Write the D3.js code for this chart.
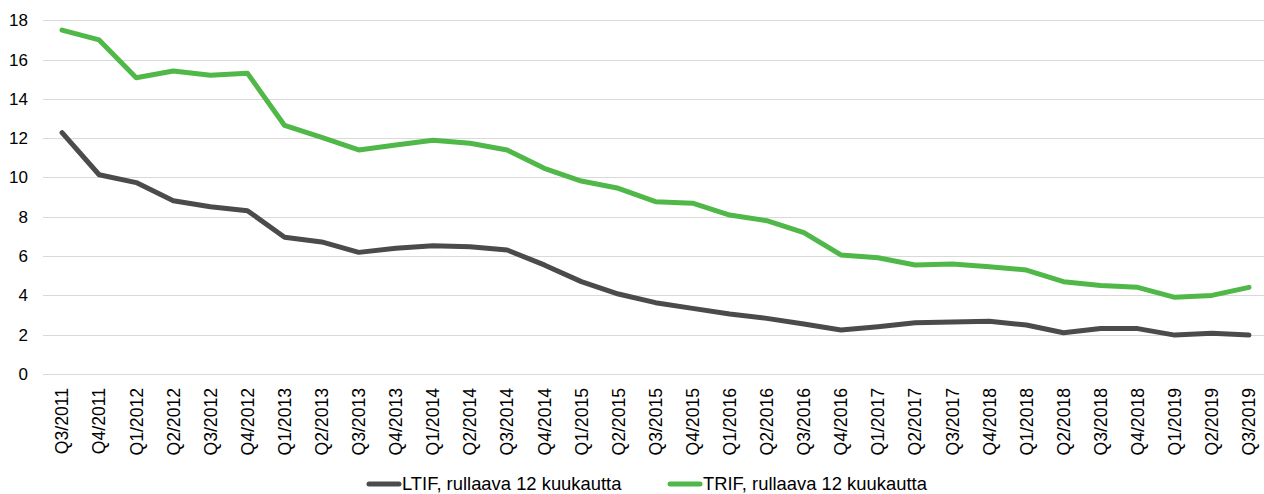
<!DOCTYPE html>
<html>
<head>
<meta charset="utf-8">
<script src="https://cdn.jsdelivr.net/npm/d3@7"></script>
<style>
  body { margin: 0; background: #fff; }
  text { font-family: "Liberation Sans", Arial, sans-serif; fill: #000; }
</style>
</head>
<body>
<script>
var width = 1264,
    height = 494;

// kvartaalit (huom: alkuperäisessä kuvassa "Q4/2018" kahdesti)
var quarters = ["Q3/2011", "Q4/2011", "Q1/2012", "Q2/2012", "Q3/2012", "Q4/2012",
    "Q1/2013", "Q2/2013", "Q3/2013", "Q4/2013", "Q1/2014", "Q2/2014", "Q3/2014",
    "Q4/2014", "Q1/2015", "Q2/2015", "Q3/2015", "Q4/2015", "Q1/2016", "Q2/2016",
    "Q3/2016", "Q4/2016", "Q1/2017", "Q2/2017", "Q3/2017", "Q4/2018", "Q1/2018",
    "Q2/2018", "Q3/2018", "Q4/2018", "Q1/2019", "Q2/2019", "Q3/2019"];

var ltif = [12.28, 10.14, 9.74, 8.82, 8.51, 8.31, 6.96, 6.72, 6.19, 6.4, 6.53, 6.48, 6.31,
    5.55, 4.7, 4.07, 3.63, 3.34, 3.05, 2.83, 2.54, 2.24, 2.41, 2.61, 2.65, 2.68, 2.49,
    2.1, 2.31, 2.31, 1.98, 2.07, 1.98];

var trif = [17.5, 17.0, 15.08, 15.42, 15.2, 15.3, 12.65, 12.04, 11.4, 11.65, 11.9, 11.74, 11.4,
    10.47, 9.82, 9.45, 8.77, 8.69, 8.09, 7.8, 7.19, 6.06, 5.92, 5.55, 5.6, 5.46, 5.29,
    4.7, 4.5, 4.41, 3.9, 4.0, 4.41];

var yTicks = [0, 2, 4, 6, 8, 10, 12, 14, 16, 18];

var series = [
    { name: "LTIF, rullaava 12 kuukautta", values: ltif, color: "#4b4b4d" },
    { name: "TRIF, rullaava 12 kuukautta", values: trif, color: "#50b848" }
];

var svg = d3.select("body")
    .append("svg")
    .attr("width", width)
    .attr("height", height);

// indeksit, koska nimissä on tuplat
var x = d3.scalePoint()
    .domain(d3.range(quarters.length))
    .range([43.5, 1267.5])
    .padding(0.5);

var y = d3.scaleLinear()
    .domain([0, 18])
    .range([374, 20.3]);

// vaakaviivat
svg.append("g")
    .selectAll("line")
    .data(yTicks)
    .join("line")
    .attr("x1", 43)
    .attr("x2", width)
    .attr("y1", d => Math.round(y(d)) + 0.5)
    .attr("y2", d => Math.round(y(d)) + 0.5)
    .attr("stroke", "#d9d9d9")
    .attr("stroke-width", 1.2);

// y-akselin tekstit
svg.append("g")
    .selectAll("text")
    .data(yTicks)
    .join("text")
    .attr("x", 28)
    .attr("y", d => y(d))
    .attr("dy", "0.35em")
    .attr("text-anchor", "end")
    .style("font-size", "17px")
    .text(d => d);

// x-akselin tekstit (pystyssä)
svg.append("g")
    .selectAll("text")
    .data(quarters)
    .join("text")
    .attr("transform", (d, i) => "translate(" + x(i) + ",388) rotate(-90)")
    .attr("dy", "0.36em")
    .attr("text-anchor", "end")
    .style("font-size", "17.6px")
    .text(d => d);

var line = d3.line()
    .x((d, i) => x(i))
    .y(d => y(d));

svg.append("g")
    .selectAll("path")
    .data(series)
    .join("path")
    .attr("d", d => line(d.values))
    .attr("fill", "none")
    .attr("stroke", d => d.color)
    .attr("stroke-width", 5)
    .attr("stroke-linejoin", "round")
    .attr("stroke-linecap", "round");

// selite
var legendX = [369, 670];
var legend = svg.append("g")
    .selectAll("g")
    .data(series)
    .join("g")
    .attr("transform", (d, i) => "translate(" + legendX[i] + ",484)");

legend.append("line")
    .attr("x1", 0)
    .attr("x2", 30)
    .attr("stroke", d => d.color)
    .attr("stroke-width", 5)
    .attr("stroke-linecap", "round");

legend.append("text")
    .attr("x", 33)
    .attr("dy", "0.35em")
    .style("font-size", "18.4px")
    .text(d => d.name);
</script>
</body>
</html>
